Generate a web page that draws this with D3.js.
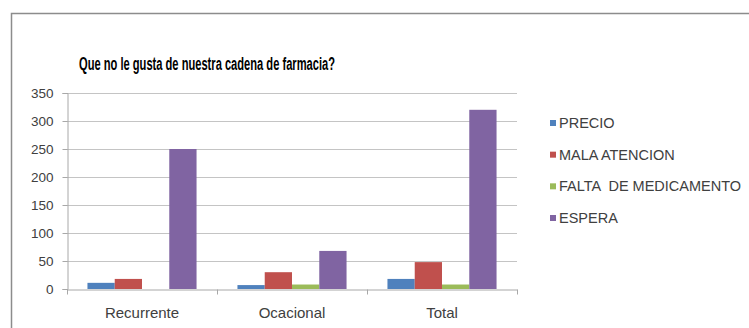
<!DOCTYPE html>
<html>
<head>
<meta charset="utf-8">
<script src="https://cdn.jsdelivr.net/npm/d3@7"></script>
<style>
  html, body { margin: 0; padding: 0; background: #fff; }
  svg { display: block; }
  text { font-family: "Liberation Sans", Arial, sans-serif; }
</style>
</head>
<body>
<svg id="chart" width="749" height="328"></svg>
<script>
const categories = ["Recurrente", "Ocacional", "Total"];
const seriesNames = ["PRECIO", "MALA ATENCION", "FALTA  DE MEDICAMENTO", "ESPERA"];
const precio = [11, 7, 18];
const malaAtencion = [18, 30, 48];
const faltaMedicamento = [0, 8, 8];
const espera = [250, 68, 320];
const seriesColors = ["#4F81BD", "#C0504D", "#9BBB59", "#8064A2"];
const yTicks = [0, 50, 100, 150, 200, 250, 300, 350];
const title = "Que no le gusta de nuestra cadena de farmacia?";

const seriesValues = [precio, malaAtencion, faltaMedicamento, espera];

(function () {
const svg = d3.select("#chart");
const FONT = "'Liberation Sans', Arial, sans-serif";

// chart frame
svg.append("path")
  .attr("d", "M11.5,328 L11.5,13.5 L749,13.5")
  .attr("fill", "none")
  .attr("stroke", "#8c8c8c")
  .attr("stroke-width", 1.5);

const pLeft = 67, pRight = 517, pTop = 93, pBottom = 289;

const x = d3.scaleBand().domain(categories).range([pLeft, pRight]).paddingInner(0).paddingOuter(0);
const groupW = x.bandwidth() * 4 / 5.5;
const xs = d3.scaleBand().domain(d3.range(4)).range([-groupW / 2, groupW / 2]).padding(0);
const y = d3.scaleLinear().domain([0, 350]).range([pBottom, pTop]);

// gridlines
svg.append("g")
  .selectAll("line")
  .data(yTicks.filter(d => d > 0))
  .join("line")
  .attr("x1", pLeft).attr("x2", pRight)
  .attr("y1", d => Math.round(y(d)) + 0.5).attr("y2", d => Math.round(y(d)) + 0.5)
  .attr("stroke", "#c4c4c4").attr("stroke-width", 1);

// y axis
const yAxis = d3.axisLeft(y).tickValues(yTicks).tickSize(5).tickPadding(9);
const gy = svg.append("g").attr("transform", `translate(${pLeft + 0.5},0)`).call(yAxis);
gy.select(".domain").attr("stroke", "#a8a8a8");
gy.selectAll(".tick line").attr("stroke", "#a8a8a8");
gy.selectAll(".tick text").attr("font-size", 13.5).attr("fill", "#404040")
  .attr("font-family", FONT);

// bars
const g = svg.append("g");
seriesValues.forEach((vals, si) => {
  g.append("g").selectAll("rect")
    .data(vals.map((v, i) => ({ cat: categories[i], v })))
    .join("rect")
    .attr("x", d => x(d.cat) + x.bandwidth() / 2 + xs(si))
    .attr("width", xs.bandwidth())
    .attr("y", d => y(d.v))
    .attr("height", d => y(0) - y(d.v))
    .attr("fill", seriesColors[si]);
});

// x axis
const xAxis = d3.axisBottom(x).tickSize(0).tickPadding(18);
const gx = svg.append("g").attr("transform", `translate(0,${pBottom + 0.5})`).call(xAxis);
gx.select(".domain").attr("stroke", "#a8a8a8");
gx.selectAll(".tick text").attr("font-size", 15).attr("fill", "#404040")
  .attr("font-family", FONT);
gx.append("g").selectAll("line")
  .data(categories.map(c => x(c)).concat([pRight]))
  .join("line")
  .attr("x1", d => Math.round(d) + 0.5).attr("x2", d => Math.round(d) + 0.5)
  .attr("y1", 0).attr("y2", 5)
  .attr("stroke", "#a8a8a8");

// title
svg.append("text")
  .attr("x", 79).attr("y", 70)
  .attr("font-size", 17.5).attr("font-weight", "bold").attr("fill", "#000")
  .attr("textLength", 256).attr("lengthAdjust", "spacingAndGlyphs")
  .text(title);

// legend
const leg = svg.append("g");
const legY = d3.scaleLinear().domain([0, 3]).range([123, 218]);
seriesNames.forEach((name, i) => {
  leg.append("rect")
    .attr("x", 550).attr("y", legY(i) - 3)
    .attr("width", 6).attr("height", 6)
    .attr("fill", seriesColors[i]);
  leg.append("text")
    .attr("x", 559).attr("y", legY(i) + 5)
    .attr("font-size", 14.5).attr("fill", "#404040")
    .style("white-space", "pre")
    .text(name);
});
})();
</script>
</body>
</html>
